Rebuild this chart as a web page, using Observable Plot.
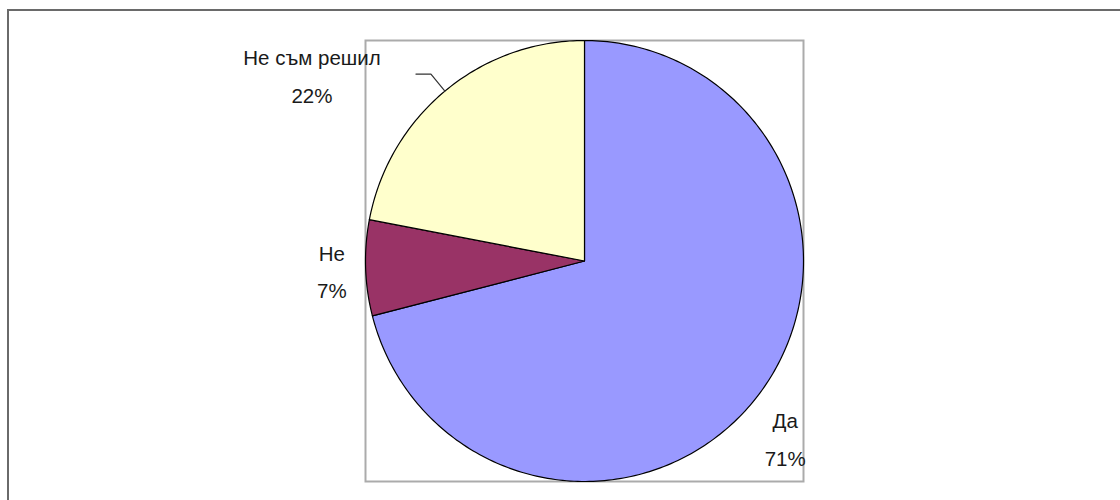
<!DOCTYPE html>
<html><head><meta charset="utf-8">
<script src="https://cdn.jsdelivr.net/npm/d3@7"></script>
<script src="https://cdn.jsdelivr.net/npm/@observablehq/plot@0.6"></script>
<style>
html,body{margin:0;padding:0;background:#fff;overflow:hidden;width:1120px;height:500px}
#wrap{position:relative;width:1120px;height:500px;overflow:hidden}
#chart{position:absolute;left:0;top:0}
#border{position:absolute;left:7px;top:9px;width:1300px;height:700px;border-left:2px solid #6a6a6a;border-top:2px solid #6a6a6a;pointer-events:none;z-index:2}
</style></head><body>
<div id="wrap"><div id="chart"></div><div id="border"></div></div>
<script>
const categories = ["Да", "Не", "Не съм решил"];
const values = [71, 7, 22];
const colors = ["#9999FF", "#993366", "#FFFFCC"];

const total = d3.sum(values);
const arcs = d3.pie().sort(null).value(d => d.value)(categories.map((c, i) => ({category: c, value: values[i]})));

// slice polygons (unit circle, angle clockwise from top)
const polys = arcs.map(a => {
  const pts = [{x: 0, y: 0}];
  const n = Math.max(2, Math.ceil((a.endAngle - a.startAngle) / (Math.PI / 180)));
  for (let k = 0; k <= n; k++) {
    const t = a.startAngle + (a.endAngle - a.startAngle) * k / n;
    pts.push({x: Math.sin(t), y: Math.cos(t)});
  }
  return pts;
});

// plot geometry: one data unit in pixels
const W = 1120, H = 500, mL = 365, mR = 317, mT = 40, mB = 19;
const ux = (W - mL - mR) / 2, uy = (H - mT - mB) / 2;

// label layout (nudges in pixels)
const nudge = {"Да": [-7, 12], "Не": [10, -2], "Не съм решил": [-105, 15]};
const labels = arcs.map(a => {
  const m = (a.startAngle + a.endAngle) / 2;
  const c = a.data.category;
  return {
    x: 1.2 * Math.sin(m) + nudge[c][0] / ux,
    y: 1.2 * Math.cos(m) - nudge[c][1] / uy,
    text: c + "\n" + Math.round(a.data.value / total * 100) + "%"
  };
});

// leader line for the moved label
const moved = arcs[2];
const mm = (moved.startAngle + moved.endAngle) / 2;
const leader = [
  {x: Math.sin(mm), y: Math.cos(mm)},
  {x: 1.1 * Math.sin(mm), y: 1.1 * Math.cos(mm)},
  {x: 1.1 * Math.sin(mm) - 15 / ux, y: 1.1 * Math.cos(mm)}
];

const chart = Plot.plot({
  width: W,
  height: H,
  marginLeft: mL,
  marginRight: mR,
  marginTop: mT,
  marginBottom: mB,
  x: {domain: [-1, 1], axis: null},
  y: {domain: [-1, 1], axis: null},
  style: {background: "transparent", fontFamily: "Arial, 'Liberation Sans', sans-serif"},
  marks: [
    Plot.frame({stroke: "#ababab", strokeWidth: 2}),
    ...polys.map((p, i) => Plot.line(p, {x: "x", y: "y", fill: colors[i], stroke: "#000", strokeWidth: 1.2, curve: "linear-closed"})),
    Plot.line(leader, {x: "x", y: "y", stroke: "#333", strokeWidth: 1.2}),
    Plot.text(labels, {x: "x", y: "y", text: "text", fontSize: 20.5, lineHeight: 1.82, textAnchor: "middle", fill: "#1a1a1a"})
  ]
});
document.getElementById("chart").appendChild(chart);
</script>
</body></html>
